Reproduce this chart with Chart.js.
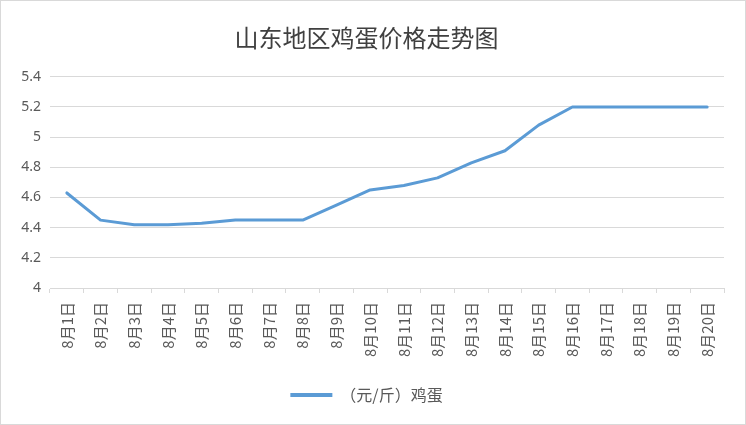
<!DOCTYPE html>
<html>
<head>
<meta charset="utf-8">
<script src="https://cdn.jsdelivr.net/npm/chart.js@4"></script>
<style>
  html, body { margin: 0; padding: 0; background: #fff; }
  #wrap {
    width: 746px; height: 425px; box-sizing: border-box;
    border: 1px solid #d9d9d9; position: relative;
  }
</style>
</head>
<body>
<div id="wrap"><canvas id="chart"></canvas></div>
<script>
// === data ===
const days = ["8月1日", "8月2日", "8月3日", "8月4日", "8月5日", "8月6日", "8月7日",
    "8月8日", "8月9日", "8月10日", "8月11日", "8月12日", "8月13日", "8月14日",
    "8月15日", "8月16日", "8月17日", "8月18日", "8月19日", "8月20日"];
const eggPrice = [4.63, 4.45, 4.42, 4.42, 4.43, 4.45, 4.45, 4.45, 4.55, 4.65,
    4.68, 4.73, 4.83, 4.91, 5.08, 5.2, 5.2, 5.2, 5.2, 5.2];
const yTicks = [4, 4.2, 4.4, 4.6, 4.8, 5, 5.2, 5.4];

const seriesName = "（元/斤）鸡蛋";
const chartTitle = "山东地区鸡蛋价格走势图";

const textColor = "#595959";
const gridColor = "#d9d9d9";
const lineColor = "#5b9bd5";
const cjk = "'Noto Sans CJK SC', 'Noto Sans', sans-serif";

new Chart(document.getElementById("chart"), {
    type: "line",
    data: {
        labels: days,
        datasets: [{
            label: seriesName,
            data: eggPrice,
            borderColor: lineColor,
            backgroundColor: lineColor,
            borderWidth: 3,
            pointRadius: 0,
            tension: 0,
            borderCapStyle: "round",
            borderJoinStyle: "round"
        }]
    },
    options: {
        responsive: true,
        maintainAspectRatio: false,
        animation: false,
        layout: { padding: { left: 8, right: 21, top: 0, bottom: 11 } },
        plugins: {
            title: {
                display: true,
                text: chartTitle,
                color: "#404040",
                font: { family: cjk, size: 24, weight: "normal" },
                padding: { top: 22, bottom: 25 }
            },
            legend: {
                position: "bottom",
                labels: {
                    color: textColor,
                    font: { family: cjk, size: 16 },
                    boxWidth: 42,
                    boxHeight: 4,
                    padding: 13,
                    generateLabels: chart => [{
                        text: seriesName,
                        fillStyle: lineColor,
                        strokeStyle: lineColor,
                        lineWidth: 0,
                        fontColor: textColor
                    }]
                }
            },
            tooltip: { enabled: false }
        },
        scales: {
            x: {
                offset: true,
                afterFit: axis => { axis.height = 86; },
                grid: {
                    display: true,
                    offset: true,
                    drawOnChartArea: false,
                    drawTicks: true,
                    tickLength: 5,
                    color: gridColor
                },
                border: { display: true, color: gridColor },
                ticks: {
                    color: textColor,
                    font: { family: cjk, size: 15 },
                    minRotation: 90,
                    maxRotation: 90,
                    autoSkip: false,
                    padding: 9
                }
            },
            y: {
                min: 4,
                max: 5.4,
                afterBuildTicks: axis => {
                    axis.ticks = yTicks.map(v => ({ value: v }));
                },
                afterFit: axis => { axis.width = 41; },
                grid: { color: gridColor, drawTicks: false },
                border: { display: false },
                ticks: {
                    color: textColor,
                    font: { family: "'Noto Sans', sans-serif", size: 14 },
                    padding: 9,
                    callback: v => String(Math.round(v * 10) / 10)
                }
            }
        }
    }
});
</script>
</body>
</html>
